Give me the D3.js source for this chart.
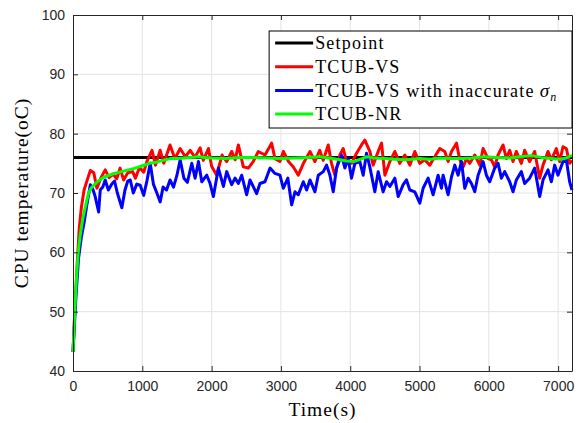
<!DOCTYPE html>
<meta charset="utf-8">
<script src="https://cdn.jsdelivr.net/npm/d3@7"></script>
<style>
  body { margin: 0; background: #fff; }
  .tick text { font-family: "Liberation Sans", Arial, sans-serif; font-size: 14px; fill: #262626; }
  .lbl { font-family: "Liberation Serif", serif; font-size: 18px; letter-spacing: 1.2px; fill: #000; }
  .axlbl { font-size: 19.5px; letter-spacing: 1px; }
</style>
<div id="chart"></div>
<script>
// data: [time (s), temperature (oC)]
var setpoint = [[0, 76], [7200, 76]];

var tcubVS = [[0,43.2],[30,51],[60,58],[90,64],[120,67.5],[160,70.5],[200,72],[250,73.8],[300,73.4],[345,70.8],
  [400,72.5],[465,73.9],[520,72.6],[580,73.2],[630,72.4],[680,74.2],[730,72.2],[790,73.4],[860,73.6],[900,72.5],
  [960,74.3],[1020,73.5],[1066,75.3],[1140,77.2],[1190,74.7],[1258,77.2],[1310,75.0],[1400,78.1],[1470,75.8],[1546,77.5],
  [1620,76.1],[1690,77.2],[1760,76.0],[1834,77.6],[1880,75.5],[1954,77.5],[2000,74.5],[2074,73.0],[2150,76.4],[2218,75.3],
  [2290,77.0],[2340,75.6],[2386,78.1],[2458,74.4],[2530,74.2],[2600,75.3],[2674,77.0],[2770,76.4],[2866,78.4],[2914,75.8],
  [2986,75.3],[3035,77.0],[3110,75.3],[3180,74.4],[3251,73.0],[3325,75.0],[3420,77.0],[3490,75.3],[3560,77.2],[3610,75.5],
  [3683,78.1],[3730,75.0],[3779,73.0],[3851,76.4],[3899,77.5],[3947,75.3],[4019,75.0],[4091,76.7],[4163,78.1],[4211,78.9],
  [4283,77.0],[4331,74.7],[4403,77.0],[4452,78.4],[4500,73.0],[4572,75.3],[4644,77.0],[4716,75.0],[4788,76.4],[4860,74.7],
  [4932,77.0],[5004,75.0],[5076,75.6],[5148,74.7],[5220,76.1],[5292,77.5],[5364,77.0],[5413,75.3],[5461,77.0],[5533,78.4],
  [5581,75.6],[5629,74.4],[5677,75.8],[5725,75.0],[5797,76.4],[5869,74.7],[5917,77.5],[5989,75.8],[6037,75.6],[6085,74.4],
  [6133,76.4],[6205,78.1],[6253,75.8],[6301,77.2],[6349,75.3],[6397,77.0],[6469,75.0],[6517,77.2],[6589,75.3],[6661,77.0],
  [6734,72.5],[6782,74.7],[6854,77.0],[6902,75.6],[6974,77.5],[7022,75.3],[7070,77.8],[7118,77.5],[7166,75.0],[7200,75.5]];

var tcubVSnoisy = [[0,43.2],[40,52],[80,59],[120,62.5],[160,65],[200,68.0],[250,71.4],[290,70.5],[320,69.4],[370,66.8],
  [393,70.5],[430,71.0],[465,72.2],[510,70.5],[560,71.5],[600,72.0],[640,70.0],[705,67.5],[750,70.5],[790,72.0],
  [826,72.2],[870,70.0],[920,71.5],[970,71.3],[1020,69.6],[1066,72.0],[1114,75.0],[1160,71.5],[1210,70.0],[1258,68.5],
  [1300,71.0],[1350,70.5],[1400,72.2],[1450,71.0],[1500,73.0],[1546,75.6],[1600,72.5],[1650,71.8],[1714,75.0],[1762,72.5],
  [1810,75.3],[1858,71.9],[1930,73.0],[1978,71.6],[2026,69.4],[2098,74.2],[2170,71.1],[2218,73.6],[2290,71.4],[2338,72.5],
  [2386,71.6],[2434,73.0],[2506,69.7],[2554,72.2],[2650,69.9],[2698,71.6],[2770,71.9],[2843,74.2],[2914,73.3],[2986,73.0],
  [3035,70.8],[3100,72.5],[3155,68.0],[3203,70.2],[3251,69.7],[3323,71.9],[3371,70.5],[3419,72.2],[3491,70.2],[3539,73.0],
  [3611,73.6],[3659,74.7],[3707,73.0],[3755,70.2],[3803,74.2],[3875,76.4],[3923,74.2],[3971,75.8],[4019,72.5],[4067,75.0],
  [4139,75.3],[4187,73.0],[4235,76.7],[4283,74.4],[4355,70.2],[4403,73.6],[4475,70.2],[4524,71.9],[4572,71.1],[4644,72.5],
  [4692,69.4],[4764,71.4],[4812,72.2],[4860,70.5],[4932,70.2],[5004,68.3],[5052,70.8],[5124,72.5],[5196,69.7],[5268,73.0],
  [5316,70.8],[5340,73.0],[5413,69.7],[5461,72.7],[5509,74.7],[5557,73.0],[5605,75.3],[5653,70.8],[5701,72.5],[5749,71.6],
  [5797,70.2],[5845,73.0],[5917,75.3],[5965,73.0],[6013,71.9],[6085,74.2],[6133,75.0],[6181,72.5],[6229,73.6],[6301,71.9],
  [6349,70.2],[6397,72.2],[6469,73.6],[6517,71.6],[6589,72.5],[6661,74.2],[6734,69.4],[6782,72.2],[6854,73.9],[6902,71.9],
  [6950,74.7],[6998,73.0],[7070,75.3],[7118,75.6],[7166,71.9],[7200,70.5]];

var tcubNR = [[0,43.2],[25,50],[50,55.5],[75,60],[100,62.5],[125,64.5],[150,66.2],[175,67.5],[200,68.8],[225,70],
  [260,70.8],[300,71.3],[350,71.9],[400,72.3],[450,72.7],[500,72.9],[600,73.3],[700,73.6],[800,73.9],[900,74.2],
  [1000,74.6],[1100,75.0],[1200,75.2],[1300,75.5],[1400,75.8],[1500,75.8],[1600,75.9],[1700,76.0],[1800,76.1],[1900,76.0],
  [2000,75.9],[2200,75.8],[2400,76.0],[2600,76.0],[2800,75.9],[3000,75.8],[3200,75.9],[3400,76.0],[3560,76.1],[3700,75.9],
  [3850,75.6],[3950,75.4],[4050,75.3],[4150,75.7],[4235,76.1],[4350,75.9],[4500,75.8],[4650,75.7],[4812,75.6],[5000,75.8],
  [5150,75.7],[5300,75.9],[5450,75.8],[5600,75.8],[5750,75.9],[5941,76.1],[6100,76.0],[6300,75.9],[6450,76.1],[6614,76.3],
  [6750,76.0],[6900,75.8],[7030,75.7],[7120,75.9],[7166,76.2],[7200,76.3]];

var xTicks = [0, 1000, 2000, 3000, 4000, 5000, 6000, 7000];
var yTicks = [40, 50, 60, 70, 80, 90, 100];

var series = [
  { name: 'Setpoint', data: setpoint, color: '#000000' },
  { name: 'TCUB-VS', data: tcubVS, color: '#ff0000' },
  { name: 'TCUB-VS with inaccurate', sub: true, data: tcubVSnoisy, color: '#0000ff' },
  { name: 'TCUB-NR', data: tcubNR, color: '#00ff00' }
];

/**
 * layout
 */
var W = 585, H = 423;
var margin = { top: 15, right: 13, bottom: 52, left: 73 };
var width = W - margin.left - margin.right;
var height = H - margin.top - margin.bottom;

var svg = d3.select("#chart").append("svg")
    .attr("width", W)
    .attr("height", H)
  .append("g")
    .attr("transform", "translate(" + margin.left + "," + margin.top + ")");

var x = d3.scaleLinear().domain([0, 7200]).range([0, width]);
var y = d3.scaleLinear().domain([40, 100]).range([height, 0]);

// grid
svg.append("g").selectAll("line").data(xTicks.slice(1)).enter().append("line")
    .attr("x1", d => x(d)).attr("x2", d => x(d))
    .attr("y1", 0).attr("y2", height)
    .attr("stroke", "#e3e3e3").attr("stroke-width", 1);
svg.append("g").selectAll("line").data(yTicks.slice(1, -1)).enter().append("line")
    .attr("x1", 0).attr("x2", width)
    .attr("y1", d => y(d)).attr("y2", d => y(d))
    .attr("stroke", "#e3e3e3").attr("stroke-width", 1);

// lines
var line = d3.line().x(d => x(d[0])).y(d => y(d[1]));
svg.append("g").selectAll("path").data(series).enter().append("path")
    .attr("d", d => line(d.data))
    .attr("fill", "none")
    .attr("stroke", d => d.color)
    .attr("stroke-width", 3)
    .attr("stroke-linejoin", "round");

// axes (ticks inward on all four sides)
function styleAxis(g) {
  g.select(".domain").attr("stroke", "#262626");
  g.selectAll(".tick line").attr("stroke", "#262626");
}
var fmt = d3.format("d");
svg.append("g").attr("transform", "translate(0," + height + ")")
    .call(d3.axisBottom(x).tickValues(xTicks).tickSize(-5).tickSizeOuter(0).tickPadding(10).tickFormat(fmt))
    .call(styleAxis);
svg.append("g")
    .call(d3.axisTop(x).tickValues(xTicks).tickSize(-5).tickSizeOuter(0).tickFormat(""))
    .call(styleAxis);
svg.append("g")
    .call(d3.axisLeft(y).tickValues(yTicks).tickSize(-5).tickSizeOuter(0).tickPadding(8).tickFormat(fmt))
    .call(styleAxis);
svg.append("g").attr("transform", "translate(" + width + ",0)")
    .call(d3.axisRight(y).tickValues(yTicks).tickSize(-5).tickSizeOuter(0).tickFormat(""))
    .call(styleAxis);

// axis labels
svg.append("text").attr("class", "lbl axlbl")
    .attr("x", width / 2).attr("y", height + 45)
    .attr("text-anchor", "middle")
    .text("Time(s)");
svg.append("text").attr("class", "lbl axlbl")
    .attr("transform", "translate(-45," + (height / 2) + ") rotate(-90)")
    .attr("text-anchor", "middle")
    .text("CPU temperature(oC)");

// legend
var lg = svg.append("g").attr("transform", "translate(" + (x(2830)) + "," + 16 + ")");
lg.append("rect")
    .attr("x", 0).attr("y", 0)
    .attr("width", width - x(2830)).attr("height", 97)
    .attr("fill", "#fff").attr("stroke", "#000").attr("stroke-width", 1);
var item = lg.selectAll(".item").data(series).enter().append("g")
    .attr("transform", (d, i) => "translate(0," + (12 + i * 23.7) + ")");
item.append("line")
    .attr("x1", 6).attr("x2", 44)
    .attr("stroke", d => d.color).attr("stroke-width", 3);
var t = item.append("text").attr("class", "lbl")
    .attr("x", 46).attr("dy", "0.35em");
t.append("tspan").text(d => d.name);
t.filter(d => d.sub).append("tspan").attr("font-style", "italic").attr("font-size", "19px").attr("dx", 5).text("σ");
t.filter(d => d.sub).append("tspan").attr("font-style", "italic").attr("font-size", "12px").attr("dy", 4).text("n");
</script>
